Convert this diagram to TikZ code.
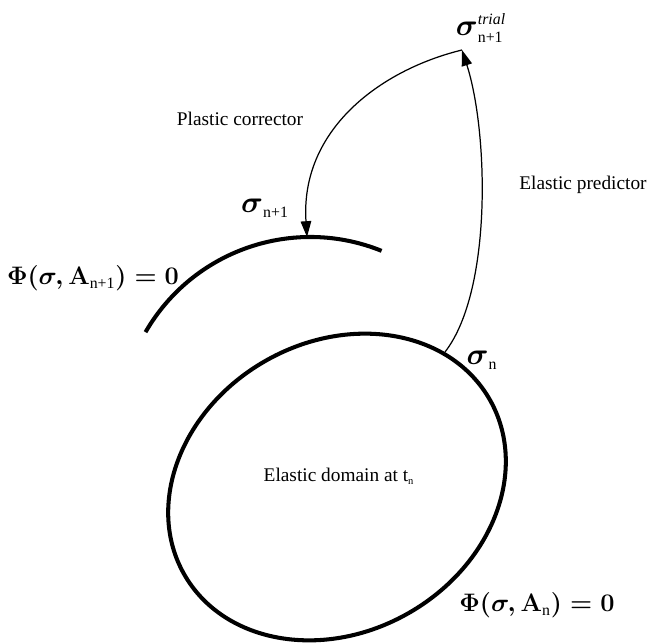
\documentclass[tikz,border=0pt]{standalone}
\usepackage[no-math]{fontspec}
\setmainfont{Liberation Serif}
\usepackage{amsmath, amssymb}
\usetikzlibrary{arrows.meta}

\newcommand{\idx}[1]{\mbox{\fontsize{9}{10}\selectfont #1}}

\begin{document}
\begin{tikzpicture}[
    surface/.style={line width=2.3pt},
    path arrow/.style={line width=0.7pt, -{Triangle[length=9pt, width=6pt]}},
    bigsym/.style={font=\fontsize{17}{19}\selectfont},
    yieldlbl/.style={font=\fontsize{14}{16}\selectfont\boldmath},
    caption/.style={font=\fontsize{11}{13}\selectfont}
]
    \useasboundingbox (0,0) rectangle (12.96,12.86);

    % Yield surfaces
    \draw[surface, rotate around={30:(6.74,3.12)}] (6.74,3.12) ellipse [x radius=3.52, y radius=2.9];
    \draw[surface] (6.206,4.314) ++(150:3.806) arc [start angle=150, end angle=68, radius=3.806];

    % Stress states
    \coordinate (sn) at (8.90,5.82);
    \coordinate (snp1) at (6.14,8.12);
    \coordinate (trial) at (9.24,11.86);

    % Predictor and corrector
    \draw[path arrow] (sn) .. controls (9.86,7.06) and (9.76,10.26) .. (trial);
    \draw[path arrow] (trial) .. controls (7.6,11.46) and (6.0,10.26) .. (snp1);

    % Labels
    \node[bigsym] (trial lbl) at (9.62,12.3) {$\boldsymbol{\sigma}^{\idx{\itshape trial}}_{\idx{n+1}}$};
    \node[caption] (corr lbl) at (4.8,10.48) {Plastic corrector};
    \node[caption] (pred lbl) at (11.66,9.16) {Elastic predictor};
    \node[bigsym] (snp1 lbl) at (5.3,8.7) {$\boldsymbol{\sigma}_{\idx{n+1}}$};
    \node[bigsym] (sn lbl) at (9.64,5.66) {$\boldsymbol{\sigma}_{\idx{n}}$};
    \node[yieldlbl] (phinp1) at (1.86,7.3) {$\Phi(\sigma,\mathbf{A}_{\idx{n+1}})=0$};
    \node[yieldlbl] (phin) at (10.74,0.76) {$\Phi(\sigma,\mathbf{A}_{\idx{n}})=0$};
    \node[caption] (domain) at (6.78,3.34) {Elastic domain at t\textsubscript{\fontsize{6}{7}\selectfont n}};
\end{tikzpicture}
\end{document}
